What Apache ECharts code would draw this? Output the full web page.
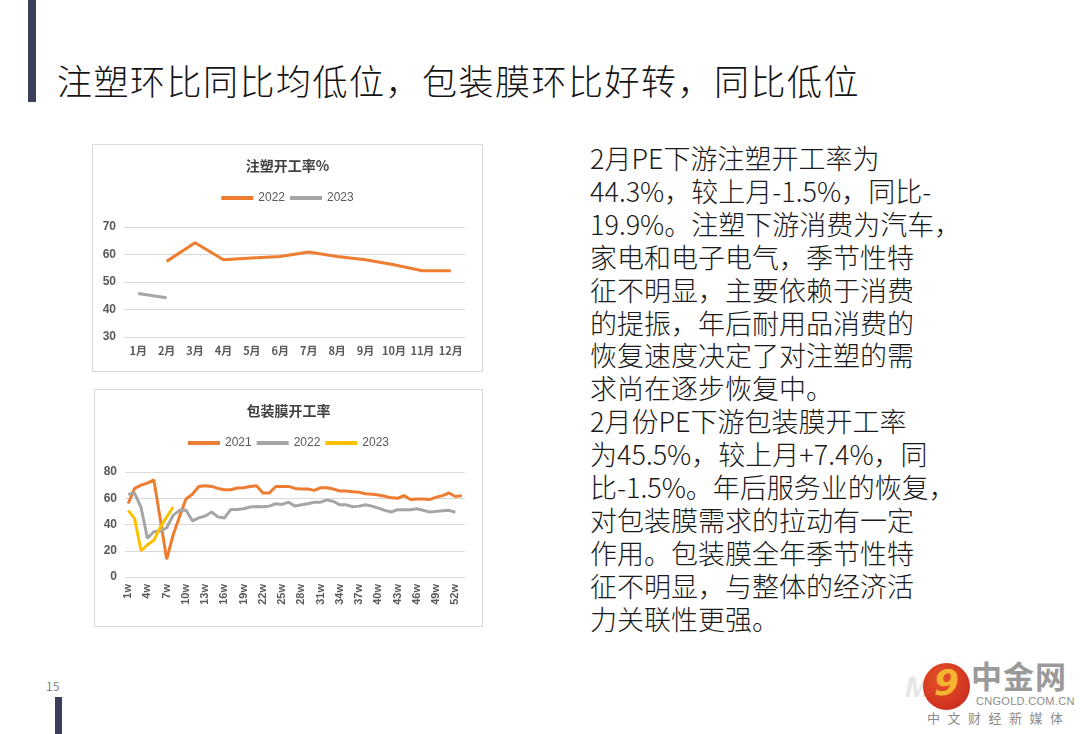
<!DOCTYPE html>
<html lang="zh">
<head>
    <meta charset="UTF-8">
    <title>注塑 包装膜 开工率</title>
    <script src="https://cdn.jsdelivr.net/npm/echarts@6/dist/echarts.min.js"></script>
    <style>
        body { margin: 0; width: 1080px; height: 734px; background: #fff; position: relative; overflow: hidden;
               font-family: "Noto Sans CJK SC", sans-serif; }
        .bar { position: absolute; background: #3b3f5c; }
        #title { position: absolute; left: 57px; top: 60px; font-size: 35px; line-height: 40px; letter-spacing: 1.5px; color: #141414; white-space: nowrap; font-weight: 300; }
        #desc { position: absolute; left: 590px; top: 142px; font-size: 27px; line-height: 32.9px; color: #1a1a1a; white-space: nowrap; font-weight: 300; }
        .box { position: absolute; border: 1px solid #d9d9d9; box-sizing: border-box; }
        #page { position: absolute; left: 46px; top: 677px; font-size: 12px; color: #7f7f7f; }
        .logo { position: absolute; }
    </style>
</head>
<body>
    <div class="bar" style="left:28px;top:0;width:8px;height:102px;"></div>
    <div class="bar" style="left:55px;top:697px;width:7px;height:37px;"></div>
    <div id="title">注塑环比同比均低位，包装膜环比好转，同比低位</div>

    <div id="chart1" class="box" style="left:92px;top:144px;width:391px;height:228px;"></div>
    <div id="chart2" class="box" style="left:94px;top:389px;width:389px;height:238px;"></div>

    <div id="desc"></div>
    <div id="page">15</div>

    <div class="logo" style="left:905px;top:670px;font:italic bold 30px 'Liberation Sans';color:#e6e6e6;">M</div>
    <div class="logo" style="left:923px;top:663px;width:47px;height:47px;border-radius:50%;background:radial-gradient(circle at 40% 35%,#e8542a,#c4221b);"></div>
    <div class="logo" style="left:934px;top:662px;font:italic bold 36px 'DejaVu Sans';color:#f5b531;">9</div>
    <div class="logo" style="left:971px;top:657px;font:bold 31px 'Noto Sans CJK SC';color:#9a9a9a;line-height:36px;letter-spacing:1px;">中金网</div>
    <div class="logo" style="left:976px;top:695px;font:11px 'Liberation Sans';color:#8c8c8c;letter-spacing:0.3px;">CNGOLD.COM.CN</div>
    <div class="logo" style="left:927px;top:708px;font:13px 'Noto Sans CJK SC';color:#8c8c8c;letter-spacing:7.5px;white-space:nowrap;">中文财经新媒体</div>

    <script type="text/javascript">

        // 注塑开工率 (%)
        var months = ['1月', '2月', '3月', '4月', '5月', '6月', '7月', '8月', '9月', '10月', '11月', '12月'];
        var inj2022 = [null, 57.5, 64.3, 58.1, 58.7, 59.3, 60.9, 59.3, 58.1, 56.3, 54.1, 54.1];
        var inj2023 = [45.8, 44.3];

        // 包装膜开工率 (weekly)
        var weeks = ['1w', '2w', '3w', '4w', '5w', '6w', '7w', '8w', '9w', '10w',
                     '11w', '12w', '13w', '14w', '15w', '16w', '17w', '18w', '19w', '20w',
                     '21w', '22w', '23w', '24w', '25w', '26w', '27w', '28w', '29w', '30w',
                     '31w', '32w', '33w', '34w', '35w', '36w', '37w', '38w', '39w', '40w',
                     '41w', '42w', '43w', '44w', '45w', '46w', '47w', '48w', '49w', '50w',
                     '51w', '52w', '53w'];
        var film2021 = [56, 67.5, 70, 71.5, 74, 44, 13.5, 32, 46, 59.5,
                        63, 69, 69.5, 69, 67.5, 66.5, 66.5, 67.8, 68, 69,
                        69.5, 64, 64, 69, 69, 69, 67.5, 67, 67, 66,
                        68, 68, 67, 65.5, 65.5, 65, 64.5, 63.5, 63, 62.5,
                        61.5, 60.3, 60, 62, 59, 59.5, 59.5, 59, 60.8, 62,
                        64, 61.3, 62];
        var film2022 = [63, 63.8, 53, 29.5, 34.5, 35, 37.5, 47, 50.8, 51,
                        42.8, 45, 46.5, 49.5, 45.8, 45, 51.5, 51.5, 52, 53.3,
                        53.8, 53.5, 54, 55.8, 55.3, 57, 54, 55, 55.8, 57,
                        57, 58.8, 57.5, 55, 55, 53.5, 54, 55, 54, 52.5,
                        50.8, 49.5, 51.3, 51.3, 51.3, 52, 50.8, 49.5, 50, 50.5,
                        50.8, 49.3];
        var film2023 = [50.8, 44.5, 20, 24.5, 28, 38, 45.8, 53.3];

        var descLines = [
            '2月PE下游注塑开工率为',
            '44.3%，较上月-1.5%，同比-',
            '19.9%。注塑下游消费为汽车，',
            '家电和电子电气，季节性特',
            '征不明显，主要依赖于消费',
            '的提振，年后耐用品消费的',
            '恢复速度决定了对注塑的需',
            '求尚在逐步恢复中。',
            '2月份PE下游包装膜开工率',
            '为45.5%，较上月+7.4%，同',
            '比-1.5%。年后服务业的恢复，',
            '对包装膜需求的拉动有一定',
            '作用。包装膜全年季节性特',
            '征不明显，与整体的经济活',
            '力关联性更强。'
        ];
        document.getElementById('desc').innerHTML = descLines.join('<br>');

        var cOrange = '#ed7d31', cGray = '#a5a5a5', cYellow = '#ffc000';
        var txt = '#595959';
        var numFont = 'Liberation Sans';

        function lineSeries(name, data, color) {
            return {
                name: name,
                type: 'line',
                data: data,
                symbol: 'none',
                connectNulls: false,
                lineStyle: { color: color, width: 3 },
                itemStyle: { color: color },
                animation: false
            };
        }

        var chart1 = echarts.init(document.getElementById('chart1'));
        chart1.setOption({
            title: {
                text: '注塑开工率%',
                left: 'center', top: 9,
                textStyle: { fontSize: 14, fontWeight: 'bold', color: '#404040', fontFamily: 'Noto Sans CJK SC' }
            },
            legend: {
                top: 42, left: 'center',
                itemWidth: 32, itemHeight: 4, itemGap: 5,
                icon: 'rect',
                textStyle: { fontSize: 12, color: txt, fontFamily: numFont },
                data: ['2022', '2023']
            },
            grid: { left: 31, right: 17, top: 82, bottom: 34 },
            xAxis: {
                type: 'category',
                data: months,
                boundaryGap: true,
                axisLine: { lineStyle: { color: '#d9d9d9' } },
                axisTick: { show: false },
                axisLabel: { color: txt, fontSize: 11, fontWeight: 'bold', fontFamily: 'Noto Sans CJK SC', margin: 8, interval: 0 }
            },
            yAxis: {
                type: 'value',
                min: 30, max: 70, interval: 10,
                axisLine: { show: false },
                axisTick: { show: false },
                splitLine: { lineStyle: { color: '#d9d9d9' } },
                axisLabel: { color: txt, fontSize: 12, fontWeight: 'bold', fontFamily: numFont, margin: 8 }
            },
            series: [
                lineSeries('2022', inj2022, cOrange),
                lineSeries('2023', inj2023, cGray)
            ]
        });

        var chart2 = echarts.init(document.getElementById('chart2'));
        chart2.setOption({
            title: {
                text: '包装膜开工率',
                left: 'center', top: 9,
                textStyle: { fontSize: 14, fontWeight: 'bold', color: '#404040', fontFamily: 'Noto Sans CJK SC' }
            },
            legend: {
                top: 42, left: 'center',
                itemWidth: 32, itemHeight: 4, itemGap: 5,
                icon: 'rect',
                textStyle: { fontSize: 12, color: txt, fontFamily: numFont },
                data: ['2021', '2022', '2023']
            },
            grid: { left: 30, right: 17, top: 82, bottom: 49 },
            xAxis: {
                type: 'category',
                data: weeks,
                boundaryGap: true,
                axisLine: { lineStyle: { color: '#d9d9d9' } },
                axisTick: { show: false },
                axisLabel: { color: txt, fontSize: 11, fontWeight: 'bold', fontFamily: numFont, rotate: 90, interval: 2, margin: 7 }
            },
            yAxis: {
                type: 'value',
                min: 0, max: 80, interval: 20,
                axisLine: { show: false },
                axisTick: { show: false },
                splitLine: { lineStyle: { color: '#d9d9d9' } },
                axisLabel: { color: txt, fontSize: 12, fontWeight: 'bold', fontFamily: numFont, margin: 8 }
            },
            series: [
                lineSeries('2021', film2021, cOrange),
                lineSeries('2022', film2022, cGray),
                lineSeries('2023', film2023, cYellow)
            ]
        });

    </script>
</body>
</html>
